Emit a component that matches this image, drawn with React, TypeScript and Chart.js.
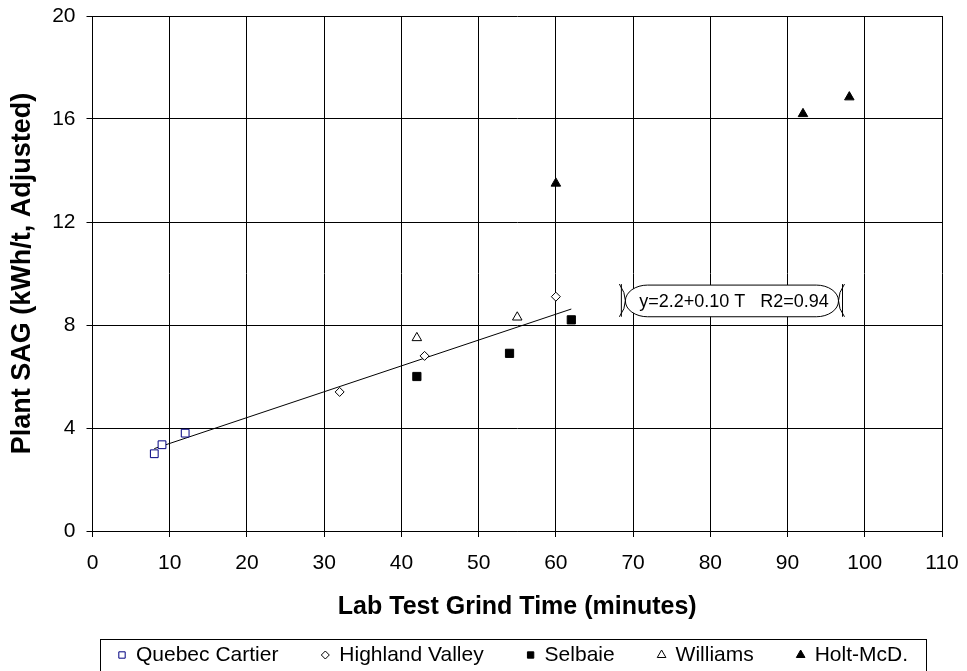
import React, { useEffect, useRef } from 'react';
import { Chart, registerables } from 'chart.js';

Chart.register(...registerables);

// ---- data ----
const quebecX = [8, 9, 12];
const quebecY = [3.0, 3.35, 3.8];
const highlandX = [32, 43, 60];
const highlandY = [5.4, 6.8, 9.1];
const selbaieX = [42, 54, 62];
const selbaieY = [6.0, 6.9, 8.2];
const williamsX = [42, 55];
const williamsY = [7.5, 8.3];
const holtX = [60, 92, 98];
const holtY = [13.5, 16.2, 16.85];
const fitX = [8, 62];
const fitY = [3.2, 8.62];

const seriesNames = ['Quebec Cartier', 'Highland Valley', 'Selbaie', 'Williams', 'Holt-McD.'];
const xTitle = 'Lab Test Grind Time (minutes)';
const yTitle = 'Plant SAG (kWh/t, Adjusted)';
const fitLabel = 'y=2.2+0.10 T   R2=0.94';
// label box position in data units
const fitBoxX = [69.0, 96.6];
const fitBoxY = [8.32, 9.55];

const FONT = 'Arial, "Liberation Sans", Helvetica, sans-serif';
const TICK_SIZE = 21;
const LEGEND_SIZE = 21;
const X_TITLE_SIZE = 25;
const Y_TITLE_SIZE = 27;

const zip = (xs: number[], ys: number[]) => xs.map((x, i) => ({ x, y: ys[i] }));

function drawMarker(ctx: CanvasRenderingContext2D, style: string, x: number, y: number, r: number, fill: string, stroke: string) {
  ctx.save();
  ctx.beginPath();
  if (style === 'rect') {
    const s = r * Math.SQRT1_2;
    ctx.rect(x - s, y - s, 2 * s, 2 * s);
  } else if (style === 'rectRot') {
    ctx.moveTo(x, y - r);
    ctx.lineTo(x + r, y);
    ctx.lineTo(x, y + r);
    ctx.lineTo(x - r, y);
    ctx.closePath();
  } else if (style === 'triangle') {
    ctx.moveTo(x, y - r);
    ctx.lineTo(x + r * 0.866, y + r * 0.5);
    ctx.lineTo(x - r * 0.866, y + r * 0.5);
    ctx.closePath();
  }
  ctx.fillStyle = fill;
  ctx.fill();
  ctx.strokeStyle = stroke;
  ctx.lineWidth = 1;
  ctx.stroke();
  ctx.restore();
}

const fitLabelPlugin = {
  id: 'fitLabel',
  afterDatasetsDraw(chart: any) {
    const { ctx, scales } = chart;
    const xs = scales.x, ys = scales.y;
    const l = xs.getPixelForValue(fitBoxX[0]);
    const r = xs.getPixelForValue(fitBoxX[1]);
    const t = ys.getPixelForValue(fitBoxY[1]);
    const b = ys.getPixelForValue(fitBoxY[0]);
    const h = b - t;
    const rad = h / 2;
    const cy = (t + b) / 2;
    ctx.save();
    ctx.beginPath();
    ctx.moveTo(l + rad * 1.4, t);
    ctx.lineTo(r - rad * 1.4, t);
    ctx.ellipse(r - rad * 1.4, cy, rad * 1.4, rad, 0, -Math.PI / 2, Math.PI / 2);
    ctx.lineTo(l + rad * 1.4, b);
    ctx.ellipse(l + rad * 1.4, cy, rad * 1.4, rad, 0, Math.PI / 2, Math.PI * 1.5);
    ctx.closePath();
    ctx.fillStyle = '#fff';
    ctx.fill();
    ctx.strokeStyle = '#000';
    ctx.lineWidth = 1;
    ctx.stroke();
    const bl = l - 4, br = r + 4;
    ctx.beginPath();
    ctx.moveTo(bl, t - 1);
    ctx.lineTo(bl, b);
    ctx.moveTo(bl - 2, t - 1);
    ctx.quadraticCurveTo(bl + 10, cy, bl - 2, b);
    ctx.moveTo(br, t - 1);
    ctx.lineTo(br, b);
    ctx.moveTo(br + 2, t - 1);
    ctx.quadraticCurveTo(br - 10, cy, br + 2, b);
    ctx.stroke();
    ctx.fillStyle = '#000';
    ctx.font = `18px ${FONT}`;
    ctx.textAlign = 'center';
    ctx.textBaseline = 'middle';
    ctx.fillText(fitLabel, (l + r) / 2 + 2, cy + 1);
    ctx.restore();
  },
};

const boxLegendPlugin = {
  id: 'boxLegend',
  afterDraw(chart: any) {
    const { ctx } = chart;
    const items = chart.data.datasets.filter((d: any) => !d.hideInLegend);
    const left = 100, right = 926, top = 639, bottom = 671;
    ctx.save();
    ctx.font = `${LEGEND_SIZE}px ${FONT}`;
    const firstMarker = 22, markerToText = 14, endMargin = 18;
    const textW = items.map((d: any) => ctx.measureText(d.label).width);
    const sumText = textW.reduce((a: number, b: number) => a + b, 0);
    const gap = (right - endMargin - (left + firstMarker) - sumText - items.length * markerToText) / (items.length - 1);
    ctx.fillStyle = '#fff';
    ctx.fillRect(left, top, right - left, bottom - top);
    ctx.strokeStyle = '#000';
    ctx.lineWidth = 1;
    ctx.strokeRect(left + 0.5, top + 0.5, right - left, bottom - top);
    let mx = left + firstMarker;
    const cy = 655;
    items.forEach((d: any, i: number) => {
      drawMarker(ctx, d.pointStyle, mx, cy, d.legendRadius, d.backgroundColor, d.borderColor);
      ctx.fillStyle = '#000';
      ctx.textAlign = 'left';
      ctx.textBaseline = 'middle';
      ctx.fillText(d.label, mx + markerToText, cy);
      mx += markerToText + textW[i] + gap;
    });
    ctx.restore();
  },
};

export default function App() {
  const canvasRef = useRef<HTMLCanvasElement | null>(null);

  useEffect(() => {
    document.body.style.margin = '0';
    const canvas = canvasRef.current;
    if (!canvas) return;
    const chart = new Chart(canvas, {
      type: 'scatter',
      data: {
        datasets: [
          {
            label: seriesNames[0],
            data: zip(quebecX, quebecY),
            pointStyle: 'rect',
            pointRadius: 5.5,
            backgroundColor: '#ffffff',
            borderColor: '#000080',
            borderWidth: 1,
            legendRadius: 4.5,
          } as any,
          {
            label: seriesNames[1],
            data: zip(highlandX, highlandY),
            pointStyle: 'rectRot',
            pointRadius: 4.5,
            backgroundColor: '#ffffff',
            borderColor: '#000000',
            borderWidth: 1,
            legendRadius: 4,
          } as any,
          {
            label: seriesNames[2],
            data: zip(selbaieX, selbaieY),
            pointStyle: 'rect',
            pointRadius: 5.8,
            backgroundColor: '#000000',
            borderColor: '#000000',
            borderWidth: 1,
            legendRadius: 4.5,
          } as any,
          {
            label: seriesNames[3],
            data: zip(williamsX, williamsY),
            pointStyle: 'triangle',
            pointRadius: 5.5,
            backgroundColor: '#ffffff',
            borderColor: '#000000',
            borderWidth: 1,
            legendRadius: 5,
          } as any,
          {
            label: seriesNames[4],
            data: zip(holtX, holtY),
            pointStyle: 'triangle',
            pointRadius: 5.5,
            backgroundColor: '#000000',
            borderColor: '#000000',
            borderWidth: 1,
            legendRadius: 5,
          } as any,
          {
            label: 'fit',
            type: 'line',
            data: zip(fitX, fitY),
            showLine: true,
            pointRadius: 0,
            borderColor: '#000000',
            borderWidth: 1,
            hideInLegend: true,
          } as any,
        ],
      },
      options: {
        responsive: false,
        animation: false,
        layout: { padding: { top: 16, right: 25, left: 0, bottom: 0 } },
        plugins: {
          legend: { display: false },
          tooltip: { enabled: false },
        },
        scales: {
          x: {
            type: 'linear',
            min: 0,
            max: 110,
            afterFit: (s: any) => { s.height = 140; s.paddingLeft = 0; s.paddingRight = 0; },
            ticks: { stepSize: 10, color: '#000', font: { family: FONT, size: TICK_SIZE }, padding: 14, maxRotation: 0 },
            grid: { color: '#000', lineWidth: 1, tickLength: 6 },
            border: { color: '#000' },
            title: {
              display: true,
              text: xTitle,
              color: '#000',
              font: { family: FONT, size: X_TITLE_SIZE, weight: 'bold' },
              padding: { top: 0, bottom: 49 },
            },
          },
          y: {
            type: 'linear',
            min: 0,
            max: 20,
            afterFit: (s: any) => { s.width = 92.5; s.paddingTop = 0; s.paddingBottom = 0; },
            ticks: { stepSize: 4, color: '#000', font: { family: FONT, size: TICK_SIZE }, padding: 11 },
            grid: { color: '#000', lineWidth: 1, tickLength: 6 },
            border: { color: '#000' },
            title: {
              display: true,
              text: yTitle,
              color: '#000',
              font: { family: FONT, size: Y_TITLE_SIZE, weight: 'bold' },
              padding: { top: 6, bottom: 0 },
            },
          },
        },
      } as any,
      plugins: [fitLabelPlugin, boxLegendPlugin],
    });
    return () => chart.destroy();
  }, []);

  return <canvas ref={canvasRef} width={967} height={671} style={{ display: 'block' }} />;
}
